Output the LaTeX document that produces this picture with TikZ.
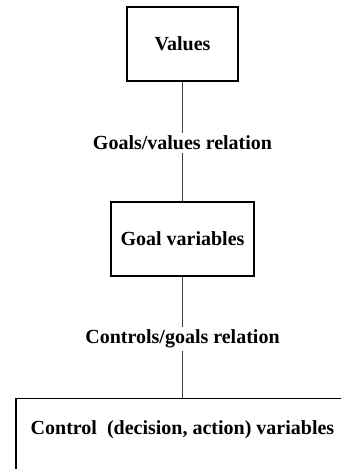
\documentclass[tikz,border=0pt]{standalone}
\usepackage{fontspec}
\setmainfont{Liberation Serif}
\usetikzlibrary{positioning}

\begin{document}
\begin{tikzpicture}[
    x=1pt, y=1pt,
    font=\fontsize{20}{24}\selectfont\bfseries,
    box/.style={draw=black, line width=1.3pt, inner sep=0pt},
    rel/.style={inner xsep=2pt, inner ysep=3pt},
    link/.style={draw=black!75, line width=1.3pt}
  ]
% fixed frame of the picture (pixel units)
\useasboundingbox (0,0) rectangle (341,-469);
\clip (0,0) rectangle (341,-469);

% =================== boxes ===================
\node[box, minimum width=111, minimum height=74] (values) at (182.5,-44) {Values};
\node[box, minimum width=143, minimum height=74] (goals) at (182.5,-239) {Goal variables};
% bottom box runs past the frame on the right and below
\node[box, anchor=north, minimum width=333, text height=36pt, text depth=44pt]
  (controls) at (182.5,-398) {Control\ \ (decision, action) variables};

% =================== relations ===================
\node[rel] (gvrel) at (182.5,-143) {Goals/values relation};
\node[rel] (cgrel) at (182.5,-339) {Controls/goals relation};

% connectors, broken by the relation labels
\draw[link] (values.south) -- (gvrel.north);
\draw[link] (gvrel.south) -- (goals.north);
\draw[link] (goals.south) -- (cgrel.north);
\draw[link] (cgrel.south) -- (controls.north);

\end{tikzpicture}
\end{document}
